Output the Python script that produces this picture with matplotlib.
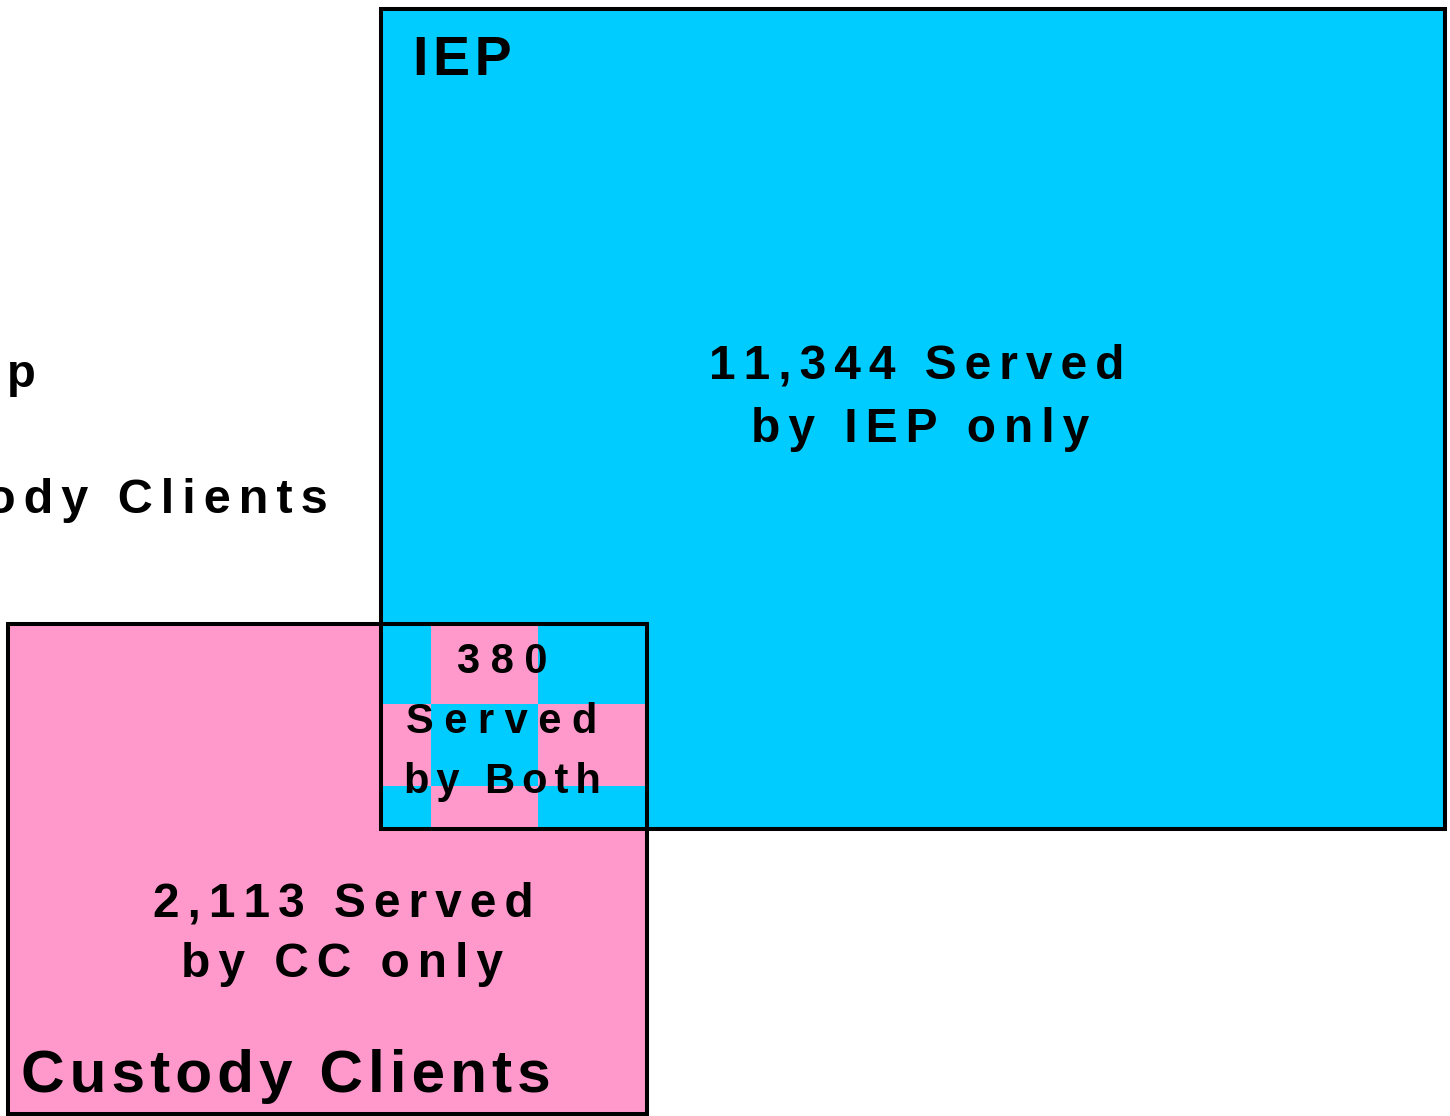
import matplotlib
matplotlib.use('Agg')
import matplotlib.pyplot as plt
from matplotlib.patches import Rectangle

plt.rcParams['font.family'] = ['Liberation Sans', 'DejaVu Sans']
plt.rcParams['font.weight'] = 'bold'

# counts
group_names = ['IEP', 'Custody Clients']
iep_only = 11344
served_both = 380
cc_only = 2113

CYAN = '#00CCFF'
PINK = '#FF99CC'
HAIR = '\u200a'


def track(s, n=2):
    # fake letter spacing with hair spaces
    return (HAIR * n).join(s)


fig = plt.figure(figsize=(14.5, 11.16), dpi=100)
ax = fig.add_axes([0, 0, 1, 1])
ax.set_xlim(0, 1450)
ax.set_ylim(1116, 0)
ax.axis('off')

# box geometry (pixels)
iep_box = (381, 9, 1445, 829)
cc_box = (8, 624, 647, 1114)
ox0, oy0 = iep_box[0], cc_box[1]
ox1, oy1 = cc_box[2], iep_box[3]

ax.add_patch(Rectangle((cc_box[0], cc_box[1]), cc_box[2] - cc_box[0], cc_box[3] - cc_box[1],
                       facecolor=PINK, edgecolor='none'))
ax.add_patch(Rectangle((iep_box[0], iep_box[1]), iep_box[2] - iep_box[0], iep_box[3] - iep_box[1],
                       facecolor=CYAN, edgecolor='none'))

# checkered overlap
cols = [ox0, 431, 538, ox1]
rows = [oy0, 704, 786, oy1]
for r in range(3):
    for c in range(3):
        color = CYAN if (r + c) % 2 == 0 else PINK
        ax.add_patch(Rectangle((cols[c], rows[r]), cols[c + 1] - cols[c], rows[r + 1] - rows[r],
                               facecolor=color, edgecolor='none'))

for b in (iep_box, cc_box):
    ax.add_patch(Rectangle((b[0], b[1]), b[2] - b[0], b[3] - b[1],
                           facecolor='none', edgecolor='black', linewidth=2.9))

# labels
ax.text(413, 75, track(group_names[0], 1), fontsize=40, ha='left', va='baseline')
ax.text(21, 1092, track(group_names[1], 1), fontsize=43.5, ha='left', va='baseline')

ax.text(917, 379, track(f'{iep_only:,} Served'), fontsize=34.5, ha='center', va='baseline')
ax.text(920, 442, track('by IEP only'), fontsize=34.5, ha='center', va='baseline')

ax.text(343, 916, track(f'{cc_only:,} Served'), fontsize=34.5, ha='center', va='baseline')
ax.text(342, 977, track('by CC only'), fontsize=34.5, ha='center', va='baseline')

ax.text(502, 673, track(f'{served_both}', 3), fontsize=30, ha='center', va='baseline')
ax.text(502, 733, track('Served', 3), fontsize=30, ha='center', va='baseline')
ax.text(502, 793, track('by Both', 2), fontsize=30, ha='center', va='baseline')

# cut-off legend text at the left edge
ax.text(36, 387, 'p', fontsize=34, ha='right', va='baseline')
ax.text(328, 513, track(group_names[1], 2), fontsize=35, ha='right', va='baseline')

fig.savefig('out.png', dpi=100)
